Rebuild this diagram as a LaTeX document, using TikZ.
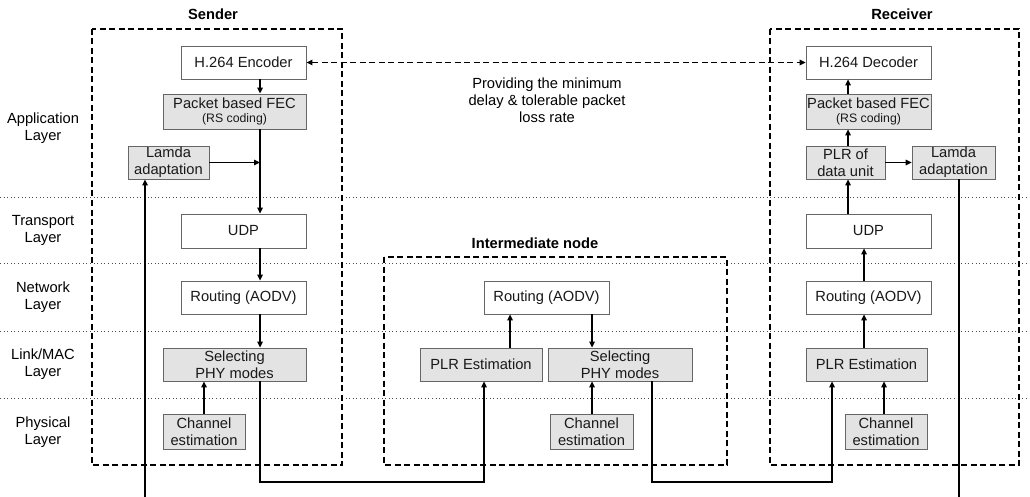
\documentclass[tikz,border=0pt]{standalone}
\usepackage{fontspec}
\setmainfont{Liberation Sans}
\usetikzlibrary{arrows.meta,calc}
\begin{document}
\begin{tikzpicture}[x=1pt,y=-1pt,
  every node/.style={font=\fontsize{14.7}{17}\selectfont},
  blk/.style={draw=black!60, line width=0.8pt, fill=white, inner sep=0pt, align=center, text=black!90},
  gblk/.style={blk, fill=black!11},
  conn/.style={line width=1.3pt, -{Triangle[length=6pt,width=5.5pt]}},
  plain/.style={line width=1.3pt},
  grp/.style={line width=1.3pt, dash pattern=on 6pt off 3.5pt},
  sep/.style={line width=0.9pt, black!70, dash pattern=on 1pt off 2.6pt},
  ttl/.style={font=\fontsize{14.7}{17}\selectfont\bfseries},
  lay/.style={align=center}]
\useasboundingbox (0,0) rectangle (1030,497);

% layer separators
\foreach \yy in {197,263,331,398} \draw[sep] (0,\yy) -- (1030,\yy);

% group boxes
\draw[grp] (92,29) rectangle (342,465);
\draw[grp] (384,257) rectangle (727,465);
\draw[grp] (770,29) rectangle (1019,465);
\node[ttl] (tsend) at (213,14) {Sender};
\node[ttl] (tint) at (535,243) {Intermediate node};
\node[ttl] (trec) at (902,14) {Receiver};

% layer labels
\node[lay] (lapp) at (43,128) {Application\\Layer};
\node[lay] (ltra) at (43,230) {Transport\\Layer};
\node[lay] (lnet) at (43,297) {Network\\Layer};
\node[lay] (llin) at (43,364) {Link/MAC\\Layer};
\node[lay] (lphy) at (43,432) {Physical\\Layer};

% sender
\node[blk, minimum width=125pt, minimum height=33pt] (enc) at (243.5,62.5) {H.264 Encoder};
\node[gblk, minimum width=143pt, minimum height=35pt] (sfec) at (234.5,111.5) {Packet based FEC\\[-3pt]{\fontsize{12.3}{14}\selectfont (RS coding)}};
\node[gblk, minimum width=81pt, minimum height=33pt] (slam) at (168.5,162.5) {Lamda\\adaptation};
\node[blk, minimum width=125pt, minimum height=34pt] (sudp) at (243.5,231) {UDP};
\node[blk, minimum width=125pt, minimum height=33pt] (srout) at (243.5,297.5) {Routing (AODV)};
\node[gblk, minimum width=143pt, minimum height=33pt] (ssel) at (234.5,364.5) {Selecting\\PHY modes};
\node[gblk, minimum width=82pt, minimum height=35pt] (sch) at (204,431.5) {Channel\\estimation};

% intermediate
\node[blk, minimum width=125pt, minimum height=33pt] (irout) at (546.5,297.5) {Routing (AODV)};
\node[gblk, minimum width=122pt, minimum height=33pt] (iplr) at (481,364.5) {PLR Estimation};
\node[gblk, minimum width=144pt, minimum height=33pt] (isel) at (620,364.5) {Selecting\\PHY modes};
\node[gblk, minimum width=83pt, minimum height=35pt] (ich) at (591.5,431.5) {Channel\\estimation};

% receiver
\node[blk, minimum width=125pt, minimum height=33pt] (dec) at (868.5,62.5) {H.264 Decoder};
\node[gblk, minimum width=125pt, minimum height=35pt] (rfec) at (868.5,111.5) {Packet based FEC\\[-3pt]{\fontsize{12.3}{14}\selectfont (RS coding)}};
\node[gblk, minimum width=79pt, minimum height=33pt] (rpdu) at (845.5,162.5) {PLR of\\data unit};
\node[gblk, minimum width=83pt, minimum height=33pt] (rlam) at (953.5,162.5) {Lamda\\adaptation};
\node[blk, minimum width=125pt, minimum height=34pt] (rudp) at (868.5,231) {UDP};
\node[blk, minimum width=125pt, minimum height=33pt] (rrout) at (868.5,297.5) {Routing (AODV)};
\node[gblk, minimum width=121pt, minimum height=33pt] (rplr) at (866.5,364.5) {PLR Estimation};
\node[gblk, minimum width=82pt, minimum height=35pt] (rch) at (886,431.5) {Channel\\estimation};

% helper coordinates
\coordinate (sx) at (260,0);
\coordinate (sj) at (260,162.5);
\coordinate (lx) at (145,0);
\coordinate (lbot) at (145,497);
\coordinate (ax) at (510,0);
\coordinate (bx) at (592,0);
\coordinate (s1) at (260,482);
\coordinate (s2) at (484,482);
\coordinate (i1) at (652,482);
\coordinate (i2) at (832,482);
\coordinate (rx) at (848,0);
\coordinate (ry) at (864,0);
\coordinate (rz) at (884,0);
\coordinate (rl) at (959,0);
\coordinate (rbot) at (959,497);

% dashed end-to-end arrow
\draw[line width=1.3pt, dash pattern=on 6pt off 3.5pt, {Triangle[length=6pt,width=5.5pt]}-{Triangle[length=6pt,width=5.5pt]}] (enc.east) -- (dec.west);
\node[align=center] (note) at (547,100) {Providing the minimum\\delay \& tolerable packet\\loss rate};

% sender connectors
\draw[conn] (enc.south -| sx) -- (sfec.north -| sx);
\draw[conn] (sfec.south -| sx) -- (sudp.north -| sx);
\draw[conn] (slam.east) -- (sj);
\draw[conn] (sudp.south -| sx) -- (srout.north -| sx);
\draw[conn] (srout.south -| sx) -- (ssel.north -| sx);
\draw[conn] (sch.north) -- (ssel.south -| sch.north);
\draw[conn] (lbot) -- (slam.south -| lx);
\draw[conn] (ssel.south -| sx) -- (s1) -- (s2) -- (iplr.south -| s2);

% intermediate connectors
\draw[conn] (iplr.north -| ax) -- (irout.south -| ax);
\draw[conn] (irout.south -| bx) -- (isel.north -| bx);
\draw[conn] (ich.north -| bx) -- (isel.south -| bx);
\draw[conn] (isel.south -| i1) -- (i1) -- (i2) -- (rplr.south -| i2);

% receiver connectors
\draw[conn] (rfec.north -| rx) -- (dec.south -| rx);
\draw[conn] (rpdu.north -| rx) -- (rfec.south -| rx);
\draw[conn] (rudp.north -| rx) -- (rpdu.south -| rx);
\draw[conn] (rrout.north -| ry) -- (rudp.south -| ry);
\draw[conn] (rplr.north -| ry) -- (rrout.south -| ry);
\draw[conn] (rch.north -| rz) -- (rplr.south -| rz);
\draw[conn] (rpdu.east) -- (rlam.west);
\draw[plain] (rlam.south -| rl) -- (rbot);
\end{tikzpicture}
\end{document}
